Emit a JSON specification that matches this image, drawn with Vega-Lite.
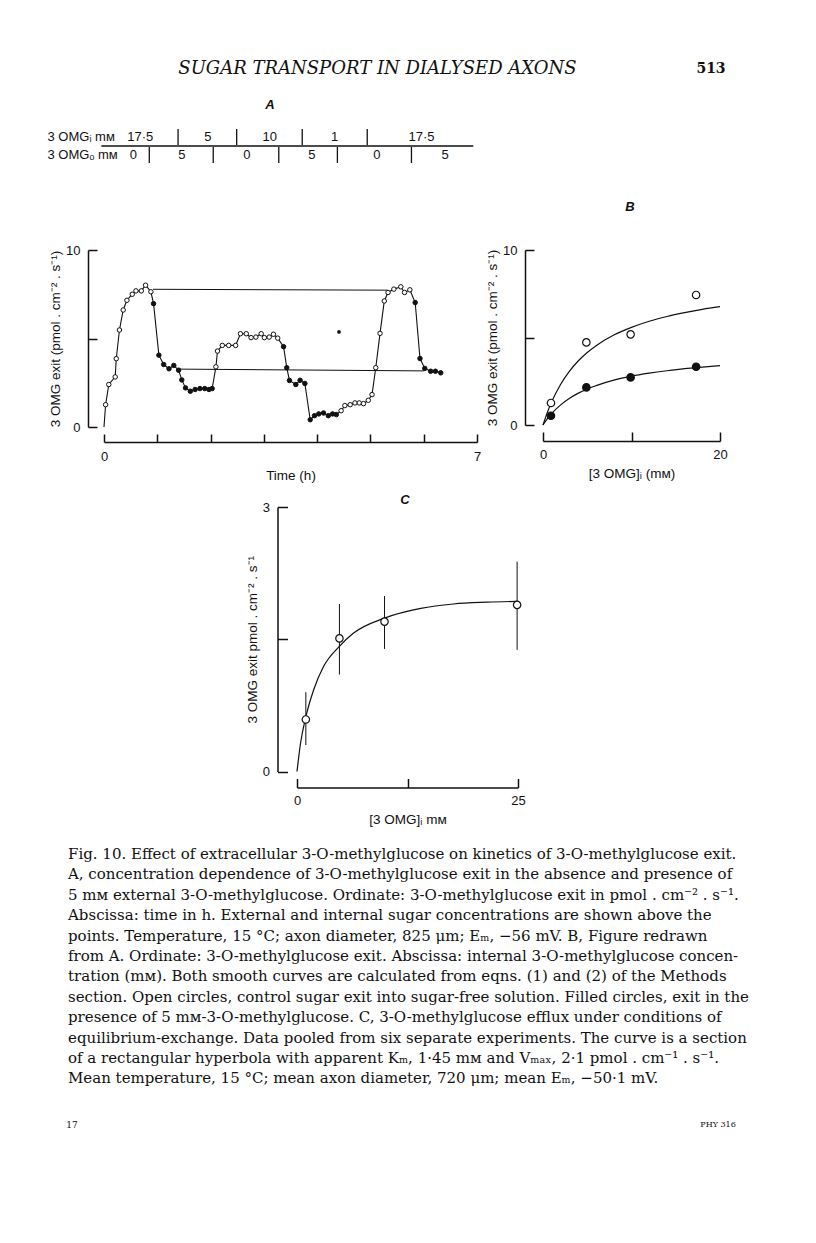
{
"$schema": "https://vega.github.io/schema/vega-lite/v6.json",
"background": "white",
"padding": 0,
"autosize": {"type": "pad"},
"columns": 2,
"align": "each",
"bounds": "flush",
"spacing": 0,
"config": {
  "view": {"stroke": null},
  "font": "Liberation Sans",
  "axis": {"grid": false, "domainColor": "#111", "domainWidth": 1.5, "tickColor": "#111", "tickWidth": 1.5, "labelColor": "#111", "labelFont": "Liberation Sans", "labelFontSize": 13, "titleColor": "#111", "titleFont": "Liberation Sans", "titleFontSize": 13.5, "titleFontWeight": "normal", "labelFlush": false, "labelOverlap": false, "labelBound": false}
},
"concat": [
  {"width": 1, "height": 59, "data": {"values": []}, "mark": "point"},
  {"width": 1, "height": 1, "data": {"values": []}, "mark": "point"},

  {"width": 1, "height": 20, "data": {"values": []}, "mark": "point"},
  {"hconcat": [
    {"width": 99, "height": 20, "data": {"values": []}, "mark": "point"},
    {"width": 555, "height": 20, "data": {"values": [{"s": "SUGAR TRANSPORT IN DIALYSED AXONS"}]}, "mark": {"type": "text", "font": "DejaVu Serif", "fontStyle": "italic", "fontSize": 18, "color": "#111", "align": "center", "baseline": "middle"}, "encoding": {"text": {"field": "s", "type": "nominal"}}},
    {"width": 112, "height": 20, "data": {"values": [{"s": "513"}]}, "mark": {"type": "text", "font": "DejaVu Serif", "fontWeight": "bold", "fontSize": 14, "color": "#111", "align": "center", "baseline": "middle"}, "encoding": {"text": {"field": "s", "type": "nominal"}}}
  ], "spacing": 0, "bounds": "flush"},

  {"width": 1, "height": 17, "data": {"values": []}, "mark": "point"},
  {"width": 1, "height": 1, "data": {"values": []}, "mark": "point"},

  {"width": 1, "height": 18, "data": {"values": []}, "mark": "point"},
  {"hconcat": [
    {"width": 261, "height": 18, "data": {"values": []}, "mark": "point"},
    {"width": 16, "height": 18, "data": {"values": [{"s": "A"}]}, "mark": {"type": "text", "font": "Liberation Sans", "fontStyle": "italic", "fontWeight": "bold", "fontSize": 13, "color": "#111", "align": "center", "baseline": "middle"}, "encoding": {"text": {"field": "s", "type": "nominal"}}}
  ], "spacing": 0, "bounds": "flush"},

  {"width": 1, "height": 14, "data": {"values": []}, "mark": "point"},
  {"width": 1, "height": 1, "data": {"values": []}, "mark": "point"},

  {"width": 1, "height": 36, "data": {"values": []}, "mark": "point"},
  {"hconcat": [
    {"width": 103, "height": 36, "data": {"values": []}, "mark": "point"},
    {"width": 373, "height": 36,
     "layer": [
       {"data": {"values": [{"t": -0.05, "t2": 6.93, "row": "3 OMGᵢ mᴍ"}]},
        "mark": {"type": "rule", "color": "#111", "strokeWidth": 1.3},
        "encoding": {
          "x": {"field": "t", "type": "quantitative", "scale": {"domain": [0, 7], "nice": false, "zero": false}, "axis": null},
          "x2": {"field": "t2"},
          "y": {"field": "row", "type": "nominal", "bandPosition": 1, "scale": {"type": "band", "domain": ["3 OMGᵢ mᴍ", "3 OMGₒ mᴍ"], "paddingInner": 0, "paddingOuter": 0},
                "axis": {"orient": "left", "domain": false, "ticks": false, "tickSize": 0, "labelPadding": 57, "labelAlign": "left", "labelBaseline": "middle", "labelFontSize": 13, "labelLimit": 0, "title": null}}
        }},
       {"data": {"values": [
          {"t": 1.39, "row": "3 OMGᵢ mᴍ"}, {"t": 2.49, "row": "3 OMGᵢ mᴍ"}, {"t": 3.72, "row": "3 OMGᵢ mᴍ"}, {"t": 4.94, "row": "3 OMGᵢ mᴍ"},
          {"t": 0.85, "row": "3 OMGₒ mᴍ"}, {"t": 2.05, "row": "3 OMGₒ mᴍ"}, {"t": 3.28, "row": "3 OMGₒ mᴍ"}, {"t": 4.38, "row": "3 OMGₒ mᴍ"}, {"t": 5.77, "row": "3 OMGₒ mᴍ"}]},
        "mark": {"type": "tick", "orient": "vertical", "thickness": 1.3, "size": 16, "color": "#111", "opacity": 1},
        "encoding": {"x": {"field": "t", "type": "quantitative"}, "y": {"field": "row", "type": "nominal"}}},
       {"data": {"values": [
          {"t": 0.68, "row": "3 OMGᵢ mᴍ", "c": "17·5"}, {"t": 1.95, "row": "3 OMGᵢ mᴍ", "c": "5"}, {"t": 3.11, "row": "3 OMGᵢ mᴍ", "c": "10"}, {"t": 4.33, "row": "3 OMGᵢ mᴍ", "c": "1"}, {"t": 5.96, "row": "3 OMGᵢ mᴍ", "c": "17·5"},
          {"t": 0.55, "row": "3 OMGₒ mᴍ", "c": "0"}, {"t": 1.46, "row": "3 OMGₒ mᴍ", "c": "5"}, {"t": 2.68, "row": "3 OMGₒ mᴍ", "c": "0"}, {"t": 3.9, "row": "3 OMGₒ mᴍ", "c": "5"}, {"t": 5.12, "row": "3 OMGₒ mᴍ", "c": "0"}, {"t": 6.4, "row": "3 OMGₒ mᴍ", "c": "5"}]},
        "mark": {"type": "text", "fontSize": 13, "color": "#111", "align": "center", "baseline": "middle"},
        "encoding": {"x": {"field": "t", "type": "quantitative"}, "y": {"field": "row", "type": "nominal"}, "text": {"field": "c", "type": "nominal"}}}
     ]}
  ], "spacing": 0, "bounds": "flush"},

  {"width": 1, "height": 86, "data": {"values": []}, "mark": "point"},
  {"hconcat": [
    {"width": 621, "height": 86, "data": {"values": []}, "mark": "point"},
    {"width": 16, "height": 86, "data": {"values": [{"s": "B"}]}, "mark": {"type": "text", "font": "Liberation Sans", "fontStyle": "italic", "fontWeight": "bold", "fontSize": 13, "color": "#111", "align": "center", "baseline": "middle"}, "encoding": {"text": {"field": "s", "type": "nominal"}}}
  ], "spacing": 0, "bounds": "flush"},

  {"width": 1, "height": 177, "data": {"values": []}, "mark": "point"},
  {"hconcat": [
    {"width": 103, "height": 177, "data": {"values": []}, "mark": "point"},
    {"width": 373, "height": 177,
     "layer": [
       {"data": {"values": [{"t": 0.92, "t2": 5.32, "v": 7.78, "v2": 7.73}, {"t": 1.4, "t2": 6.0, "v": 3.27, "v2": 3.17}]},
        "mark": {"type": "rule", "color": "#111", "strokeWidth": 1},
        "encoding": {
          "x": {"field": "t", "type": "quantitative", "scale": {"domain": [0, 7], "nice": false, "zero": false},
                "axis": {"orient": "bottom", "offset": 15, "values": [0, 1, 2, 3, 4, 5, 6, 7], "format": "d", "tickSize": -8, "labelPadding": 16, "labelExpr": "datum.value == 0 || datum.value == 7 ? datum.label : ''", "title": "Time (h)", "titlePadding": 5}},
          "x2": {"field": "t2"},
          "y": {"field": "v", "type": "quantitative", "scale": {"domain": [0, 10], "nice": false},
                "axis": {"orient": "left", "offset": 16, "values": [0, 5, 10], "format": "d", "tickSize": -9, "labelPadding": 17, "labelExpr": "datum.value == 5 ? '' : datum.label", "title": "3 OMG exit (pmol . cm⁻² . s⁻¹)", "titlePadding": 3}},
          "y2": {"field": "v2"}
        }},
       {"data": {"name": "seriesA"},
        "mark": {"type": "line", "color": "#111", "strokeWidth": 1.1},
        "encoding": {"x": {"field": "t", "type": "quantitative"}, "y": {"field": "v", "type": "quantitative"}}},
       {"data": {"name": "seriesA"},
        "transform": [{"filter": "datum.k != 'none'"}],
        "mark": {"type": "point", "filled": true, "stroke": "#111", "strokeWidth": 1, "opacity": 1, "size": 20},
        "encoding": {"x": {"field": "t", "type": "quantitative"}, "y": {"field": "v", "type": "quantitative"},
          "fill": {"field": "k", "type": "nominal", "scale": {"domain": ["open", "filled"], "range": ["#ffffff", "#111111"]}, "legend": null}}},
       {"data": {"values": [{"t": 4.41, "v": 5.37}]},
        "mark": {"type": "point", "filled": true, "fill": "#111", "stroke": null, "opacity": 1, "size": 14},
        "encoding": {"x": {"field": "t", "type": "quantitative"}, "y": {"field": "v", "type": "quantitative"}}}
     ]},
    {"width": 66, "height": 1, "data": {"values": []}, "mark": "point"},
    {"width": 177, "height": 175,
     "layer": [
       {"data": {"values": [
          {"x": 0, "v": 0, "s": "open"}, {"x": 0.5, "v": 0.73, "s": "open"}, {"x": 1, "v": 1.35, "s": "open"}, {"x": 2, "v": 2.33, "s": "open"}, {"x": 3, "v": 3.08, "s": "open"}, {"x": 4, "v": 3.67, "s": "open"}, {"x": 5, "v": 4.14, "s": "open"}, {"x": 6, "v": 4.53, "s": "open"}, {"x": 8, "v": 5.14, "s": "open"}, {"x": 10, "v": 5.58, "s": "open"}, {"x": 12, "v": 5.93, "s": "open"}, {"x": 14, "v": 6.2, "s": "open"}, {"x": 16, "v": 6.42, "s": "open"}, {"x": 18, "v": 6.61, "s": "open"}, {"x": 20, "v": 6.76, "s": "open"},
          {"x": 0, "v": 0, "s": "filled"}, {"x": 0.5, "v": 0.36, "s": "filled"}, {"x": 1, "v": 0.67, "s": "filled"}, {"x": 2, "v": 1.15, "s": "filled"}, {"x": 3, "v": 1.53, "s": "filled"}, {"x": 4, "v": 1.82, "s": "filled"}, {"x": 5, "v": 2.06, "s": "filled"}, {"x": 6, "v": 2.25, "s": "filled"}, {"x": 8, "v": 2.56, "s": "filled"}, {"x": 10, "v": 2.79, "s": "filled"}, {"x": 12, "v": 2.96, "s": "filled"}, {"x": 14, "v": 3.1, "s": "filled"}, {"x": 16, "v": 3.22, "s": "filled"}, {"x": 18, "v": 3.31, "s": "filled"}, {"x": 20, "v": 3.39, "s": "filled"}]},
        "mark": {"type": "line", "color": "#111", "strokeWidth": 1.2, "interpolate": "monotone"},
        "encoding": {
          "x": {"field": "x", "type": "quantitative", "scale": {"domain": [0, 20], "nice": false, "zero": false},
                "axis": {"orient": "bottom", "offset": 16, "values": [0, 10, 20], "format": "d", "tickSize": -9, "labelPadding": 16, "labelExpr": "datum.value == 10 ? '' : datum.label", "title": "[3 OMG]ᵢ (mᴍ)", "titlePadding": 5}},
          "y": {"field": "v", "type": "quantitative", "scale": {"domain": [0, 10], "nice": false},
                "axis": {"orient": "left", "offset": 18, "values": [0, 5, 10], "format": "d", "tickSize": -9, "labelPadding": 17, "labelExpr": "datum.value == 5 ? '' : datum.label", "title": "3 OMG exit (pmol . cm⁻² . s⁻¹)", "titlePadding": 3}},
          "detail": {"field": "s", "type": "nominal"}
        }},
       {"data": {"values": [
          {"x": 0.9, "v": 1.26, "k": "open"}, {"x": 4.9, "v": 4.72, "k": "open"}, {"x": 9.9, "v": 5.18, "k": "open"}, {"x": 17.3, "v": 7.43, "k": "open"},
          {"x": 0.9, "v": 0.53, "k": "filled"}, {"x": 4.9, "v": 2.15, "k": "filled"}, {"x": 9.9, "v": 2.72, "k": "filled"}, {"x": 17.3, "v": 3.33, "k": "filled"}]},
        "mark": {"type": "point", "filled": true, "stroke": "#111", "strokeWidth": 1.2, "opacity": 1, "size": 55},
        "encoding": {"x": {"field": "x", "type": "quantitative"}, "y": {"field": "v", "type": "quantitative"},
          "fill": {"field": "k", "type": "nominal", "scale": {"domain": ["open", "filled"], "range": ["#ffffff", "#111111"]}, "legend": null}}}
     ]}
  ], "spacing": 0, "bounds": "flush"},

  {"width": 1, "height": 66, "data": {"values": []}, "mark": "point"},
  {"width": 1, "height": 1, "data": {"values": []}, "mark": "point"},

  {"width": 1, "height": 14, "data": {"values": []}, "mark": "point"},
  {"hconcat": [
    {"width": 396, "height": 14, "data": {"values": []}, "mark": "point"},
    {"width": 16, "height": 14, "data": {"values": [{"s": "C"}]}, "mark": {"type": "text", "font": "Liberation Sans", "fontStyle": "italic", "fontWeight": "bold", "fontSize": 13, "color": "#111", "align": "center", "baseline": "middle"}, "encoding": {"text": {"field": "s", "type": "nominal"}}}
  ], "spacing": 0, "bounds": "flush"},

  {"width": 1, "height": 264.5, "data": {"values": []}, "mark": "point"},
  {"hconcat": [
    {"width": 296, "height": 264.5, "data": {"values": []}, "mark": "point"},
    {"width": 221, "height": 264.5,
     "layer": [
       {"data": {"values": [
          {"x": 0, "v": 0}, {"x": 0.4, "v": 0.32}, {"x": 1, "v": 0.62}, {"x": 1.9, "v": 0.93}, {"x": 3, "v": 1.19}, {"x": 4.8, "v": 1.42}, {"x": 6.4, "v": 1.57}, {"x": 9.9, "v": 1.74}, {"x": 14, "v": 1.85}, {"x": 17.7, "v": 1.9}, {"x": 21.5, "v": 1.92}, {"x": 24.9, "v": 1.93}]},
        "mark": {"type": "line", "color": "#111", "strokeWidth": 1.2, "interpolate": "monotone"},
        "encoding": {
          "x": {"field": "x", "type": "quantitative", "scale": {"domain": [0, 25], "nice": false, "zero": false},
                "axis": {"orient": "bottom", "offset": 16, "values": [0, 12.5, 25], "format": "d", "tickSize": -9, "labelPadding": 16, "labelExpr": "datum.value == 12.5 ? '' : datum.label", "title": "[3 OMG]ᵢ mᴍ", "titlePadding": 5}},
          "y": {"field": "v", "type": "quantitative", "scale": {"domain": [0, 3], "nice": false},
                "axis": {"orient": "left", "offset": 19.5, "values": [0, 1.5, 3], "format": "d", "tickSize": -10, "labelPadding": 18, "labelExpr": "datum.value == 1.5 ? '' : datum.label", "title": "3 OMG exit pmol . cm⁻² . s⁻¹", "titlePadding": 3}}
        }},
       {"data": {"name": "pointsC"},
        "mark": {"type": "rule", "color": "#111", "strokeWidth": 1},
        "encoding": {"x": {"field": "x", "type": "quantitative"}, "y": {"field": "lo", "type": "quantitative"}, "y2": {"field": "hi"}}},
       {"data": {"name": "pointsC"},
        "mark": {"type": "point", "filled": true, "fill": "#ffffff", "stroke": "#111", "strokeWidth": 1.2, "opacity": 1, "size": 55},
        "encoding": {"x": {"field": "x", "type": "quantitative"}, "y": {"field": "v", "type": "quantitative"}}}
     ]}
  ], "spacing": 0, "bounds": "flush"},

  {"width": 1, "height": 71.5, "data": {"values": []}, "mark": "point"},
  {"width": 1, "height": 1, "data": {"values": []}, "mark": "point"},

  {"width": 1, "height": 20, "data": {"values": []}, "mark": "point"},
  {"hconcat": [
    {"width": 66, "height": 20, "data": {"values": []}, "mark": "point"},
    {"width": 2, "height": 20, "data": {"values": [{"s": "Fig. 10. Effect of extracellular 3-O-methylglucose on kinetics of 3-O-methylglucose exit.\nA, concentration dependence of 3-O-methylglucose exit in the absence and presence of\n5 mᴍ external 3-O-methylglucose. Ordinate: 3-O-methylglucose exit in pmol . cm⁻² . s⁻¹.\nAbscissa: time in h. External and internal sugar concentrations are shown above the\npoints. Temperature, 15 °C; axon diameter, 825 μm; Eₘ, −56 mV. B, Figure redrawn\nfrom A. Ordinate: 3-O-methylglucose exit. Abscissa: internal 3-O-methylglucose concen-\ntration (mᴍ). Both smooth curves are calculated from eqns. (1) and (2) of the Methods\nsection. Open circles, control sugar exit into sugar-free solution. Filled circles, exit in the\npresence of 5 mᴍ-3-O-methylglucose. C, 3-O-methylglucose efflux under conditions of\nequilibrium-exchange. Data pooled from six separate experiments. The curve is a section\nof a rectangular hyperbola with apparent Kₘ, 1·45 mᴍ and Vₘₐₓ, 2·1 pmol . cm⁻¹ . s⁻¹.\nMean temperature, 15 °C; mean axon diameter, 720 μm; mean Eₘ, −50·1 mV."}]},
     "mark": {"type": "text", "font": "DejaVu Serif", "fontSize": 15, "lineHeight": 20.4, "lineBreak": "\n", "color": "#111", "align": "left", "baseline": "middle"},
     "encoding": {"text": {"field": "s", "type": "nominal"}}}
  ], "spacing": 0, "bounds": "flush"},

  {"width": 1, "height": 251, "data": {"values": []}, "mark": "point"},
  {"width": 1, "height": 1, "data": {"values": []}, "mark": "point"},

  {"width": 1, "height": 20, "data": {"values": []}, "mark": "point"},
  {"hconcat": [
    {"width": 61, "height": 20, "data": {"values": []}, "mark": "point"},
    {"width": 20, "height": 20, "data": {"values": [{"s": "17"}]}, "mark": {"type": "text", "font": "DejaVu Serif", "fontSize": 9, "color": "#111", "align": "center", "baseline": "middle"}, "encoding": {"text": {"field": "s", "type": "nominal"}}},
    {"width": 616, "height": 20, "data": {"values": []}, "mark": "point"},
    {"width": 40, "height": 20, "data": {"values": [{"s": "PHY 316"}]}, "mark": {"type": "text", "font": "DejaVu Serif", "fontSize": 8, "color": "#111", "align": "center", "baseline": "middle"}, "encoding": {"text": {"field": "s", "type": "nominal"}}}
  ], "spacing": 0, "bounds": "flush"}
],
"datasets": {
  "seriesA": [
    {"t": 0, "v": 0, "k": "none"},
    {"t": 0.03, "v": 1.26, "k": "open"}, {"t": 0.09, "v": 2.4, "k": "open"}, {"t": 0.21, "v": 2.83, "k": "open"}, {"t": 0.23, "v": 3.86, "k": "open"},
    {"t": 0.29, "v": 5.48, "k": "open"}, {"t": 0.36, "v": 6.61, "k": "open"}, {"t": 0.43, "v": 7.16, "k": "open"}, {"t": 0.53, "v": 7.5, "k": "open"},
    {"t": 0.6, "v": 7.69, "k": "open"}, {"t": 0.7, "v": 7.69, "k": "open"}, {"t": 0.78, "v": 8.01, "k": "open"}, {"t": 0.88, "v": 7.64, "k": "open"},
    {"t": 0.93, "v": 6.97, "k": "filled"}, {"t": 1.03, "v": 4.06, "k": "filled"}, {"t": 1.12, "v": 3.53, "k": "filled"}, {"t": 1.22, "v": 3.29, "k": "filled"},
    {"t": 1.31, "v": 3.48, "k": "filled"}, {"t": 1.4, "v": 3.21, "k": "filled"}, {"t": 1.46, "v": 2.66, "k": "filled"}, {"t": 1.53, "v": 2.21, "k": "filled"},
    {"t": 1.62, "v": 2.02, "k": "filled"}, {"t": 1.71, "v": 2.12, "k": "filled"}, {"t": 1.8, "v": 2.17, "k": "filled"}, {"t": 1.89, "v": 2.17, "k": "filled"},
    {"t": 1.97, "v": 2.12, "k": "filled"}, {"t": 2.03, "v": 2.17, "k": "filled"},
    {"t": 2.1, "v": 3.4, "k": "open"}, {"t": 2.13, "v": 4.29, "k": "open"}, {"t": 2.22, "v": 4.61, "k": "open"}, {"t": 2.34, "v": 4.61, "k": "open"},
    {"t": 2.47, "v": 4.61, "k": "open"}, {"t": 2.56, "v": 5.27, "k": "open"}, {"t": 2.67, "v": 5.27, "k": "open"}, {"t": 2.76, "v": 5.05, "k": "open"},
    {"t": 2.85, "v": 5.08, "k": "open"}, {"t": 2.95, "v": 5.27, "k": "open"}, {"t": 3.01, "v": 5.05, "k": "open"}, {"t": 3.1, "v": 5.08, "k": "open"},
    {"t": 3.18, "v": 5.24, "k": "open"}, {"t": 3.26, "v": 5.02, "k": "open"},
    {"t": 3.37, "v": 4.54, "k": "filled"}, {"t": 3.43, "v": 3.35, "k": "filled"}, {"t": 3.48, "v": 2.63, "k": "filled"}, {"t": 3.6, "v": 2.4, "k": "filled"},
    {"t": 3.68, "v": 2.64, "k": "filled"}, {"t": 3.77, "v": 2.46, "k": "filled"}, {"t": 3.87, "v": 0.41, "k": "filled"}, {"t": 3.95, "v": 0.64, "k": "filled"},
    {"t": 4.03, "v": 0.74, "k": "filled"}, {"t": 4.12, "v": 0.79, "k": "filled"}, {"t": 4.21, "v": 0.64, "k": "filled"}, {"t": 4.29, "v": 0.74, "k": "filled"},
    {"t": 4.36, "v": 0.7, "k": "filled"},
    {"t": 4.45, "v": 0.92, "k": "open"}, {"t": 4.52, "v": 1.21, "k": "open"}, {"t": 4.62, "v": 1.26, "k": "open"}, {"t": 4.71, "v": 1.36, "k": "open"},
    {"t": 4.79, "v": 1.36, "k": "open"}, {"t": 4.87, "v": 1.32, "k": "open"}, {"t": 4.96, "v": 1.51, "k": "open"}, {"t": 5.03, "v": 1.83, "k": "open"},
    {"t": 5.1, "v": 3.35, "k": "open"}, {"t": 5.18, "v": 5.29, "k": "open"}, {"t": 5.26, "v": 7.12, "k": "open"}, {"t": 5.33, "v": 7.6, "k": "open"},
    {"t": 5.44, "v": 7.79, "k": "open"}, {"t": 5.57, "v": 7.92, "k": "open"}, {"t": 5.64, "v": 7.6, "k": "open"}, {"t": 5.74, "v": 7.75, "k": "open"},
    {"t": 5.84, "v": 7.03, "k": "filled"}, {"t": 5.93, "v": 3.87, "k": "filled"}, {"t": 6.02, "v": 3.31, "k": "filled"}, {"t": 6.13, "v": 3.15, "k": "filled"},
    {"t": 6.22, "v": 3.15, "k": "filled"}, {"t": 6.32, "v": 3.06, "k": "filled"}
  ],
  "pointsC": [
    {"x": 1.0, "v": 0.59, "lo": 0.3, "hi": 0.9},
    {"x": 4.8, "v": 1.51, "lo": 1.1, "hi": 1.9},
    {"x": 9.9, "v": 1.7, "lo": 1.39, "hi": 1.99},
    {"x": 24.9, "v": 1.89, "lo": 1.38, "hi": 2.38}
  ]
}
}
